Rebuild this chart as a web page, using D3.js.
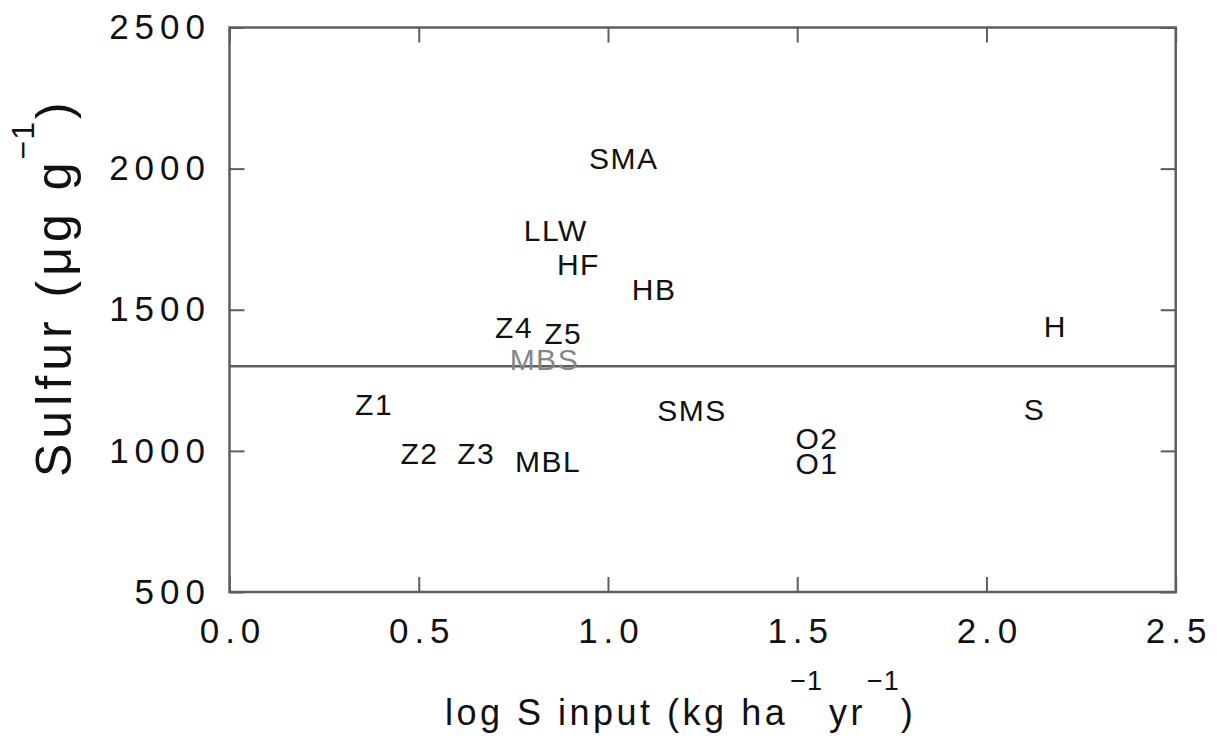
<!DOCTYPE html>
<html>
<head>
<meta charset="utf-8">
<script src="https://cdn.jsdelivr.net/npm/d3@7"></script>
<style>
  body { margin: 0; background: #fff; }
  svg text { font-family: "Liberation Sans", "DejaVu Sans", sans-serif; }
</style>
</head>
<body>
<svg id="chart" width="1217" height="744"></svg>
<script>
// ---- data ----
const siteLabels = ["SMA", "LLW", "HF", "HB", "Z4", "Z5", "MBS", "Z1", "Z2", "Z3", "MBL", "SMS", "O2", "O1", "H", "S"];
const logSInput  = [1.04, 0.86, 0.92, 1.12, 0.75, 0.88, 0.83, 0.38, 0.50, 0.65, 0.84, 1.22, 1.55, 1.55, 2.18, 2.125];
const sulfur     = [2036, 1782, 1660, 1570, 1437, 1416, 1325, 1166, 991, 991, 964, 1142, 1044, 955, 1440, 1145];
const referenceLine = 1300;
const xTicks = [0.0, 0.5, 1.0, 1.5, 2.0, 2.5];
const yTicks = [500, 1000, 1500, 2000, 2500];

(function () {
const svg = d3.select("#chart");
const pL = 229.5, pR = 1175.7, pT = 27.5, pB = 592;
const x = d3.scaleLinear().domain([0, 2.5]).range([pL, pR]);
const y = d3.scaleLinear().domain([500, 2500]).range([pB, pT]);
const frameColor = "#5e5e5e";
const textColor = "#111";
const tickLen = 15;
const tickFont = 35, tickLS = 6;

const axisStyle = g => {
  g.select(".domain").remove();
  g.selectAll(".tick line").attr("stroke", frameColor).attr("stroke-width", 2);
};
svg.append("g").attr("transform", `translate(0,${pB})`)
  .call(d3.axisBottom(x).tickValues(xTicks).tickSize(-tickLen).tickPadding(26).tickFormat(d3.format(".1f")))
  .call(axisStyle)
  .selectAll("text").attr("font-size", tickFont).attr("letter-spacing", tickLS)
  .attr("dx", tickLS / 2).attr("dy", "0.71em").style("fill", textColor);
svg.append("g").attr("transform", `translate(0,${pT})`)
  .call(d3.axisTop(x).tickValues(xTicks).tickSize(-tickLen).tickFormat(""))
  .call(axisStyle);
svg.append("g").attr("transform", `translate(${pL},0)`)
  .call(d3.axisLeft(y).tickValues(yTicks).tickSize(-tickLen).tickPadding(18.5).tickFormat(d3.format("d")))
  .call(axisStyle)
  .selectAll("text").attr("font-size", tickFont).attr("letter-spacing", tickLS).style("fill", textColor);
svg.append("g").attr("transform", `translate(${pR},0)`)
  .call(d3.axisRight(y).tickValues(yTicks).tickSize(-tickLen).tickFormat(""))
  .call(axisStyle);

// frame
svg.append("rect").attr("x", pL).attr("y", pT).attr("width", pR - pL).attr("height", pB - pT)
  .attr("fill", "none").attr("stroke", frameColor).attr("stroke-width", 2.5);

// reference line
svg.append("line").attr("x1", x(0)).attr("x2", x(2.5)).attr("y1", y(referenceLine)).attr("y2", y(referenceLine))
  .attr("stroke", frameColor).attr("stroke-width", 2.5);

// site labels
const labLS = 1.5;
svg.append("g").selectAll("text").data(siteLabels).join("text")
  .attr("x", (d, i) => x(logSInput[i]))
  .attr("y", (d, i) => y(sulfur[i]))
  .attr("dx", labLS / 2)
  .attr("text-anchor", "middle")
  .attr("dominant-baseline", "central")
  .attr("font-size", 30)
  .attr("letter-spacing", labLS)
  .style("fill", d => d === "MBS" ? "#858585" : textColor)
  .text(d => d);

// x axis title
const xt = svg.append("text").attr("x", 445).attr("y", 725)
  .attr("text-anchor", "start").attr("font-size", 36).attr("letter-spacing", 3.5)
  .style("fill", textColor);
xt.append("tspan").text("log S input (kg ha");
xt.append("tspan").attr("dy", -35).attr("dx", 2).attr("font-size", 27).attr("letter-spacing", 1).text("\u22121");
xt.append("tspan").attr("dy", 35).attr("dx", 6).text("yr");
xt.append("tspan").attr("dy", -35).attr("dx", 1).attr("font-size", 27).attr("letter-spacing", 1).text("\u22121");
xt.append("tspan").attr("dy", 35).attr("dx", 1).text(")");

// y axis title
const yt = svg.append("text").attr("transform", `translate(71,477) rotate(-90)`)
  .attr("text-anchor", "start").attr("font-size", 50).attr("letter-spacing", 5)
  .style("fill", textColor);
yt.append("tspan").text("Sulfur (\u03bcg g");
yt.append("tspan").attr("dy", -37).attr("dx", -2).attr("font-size", 32).attr("letter-spacing", 1).text("\u22121");
yt.append("tspan").attr("dy", 37).attr("dx", 2).text(")");
})();
</script>
</body>
</html>
